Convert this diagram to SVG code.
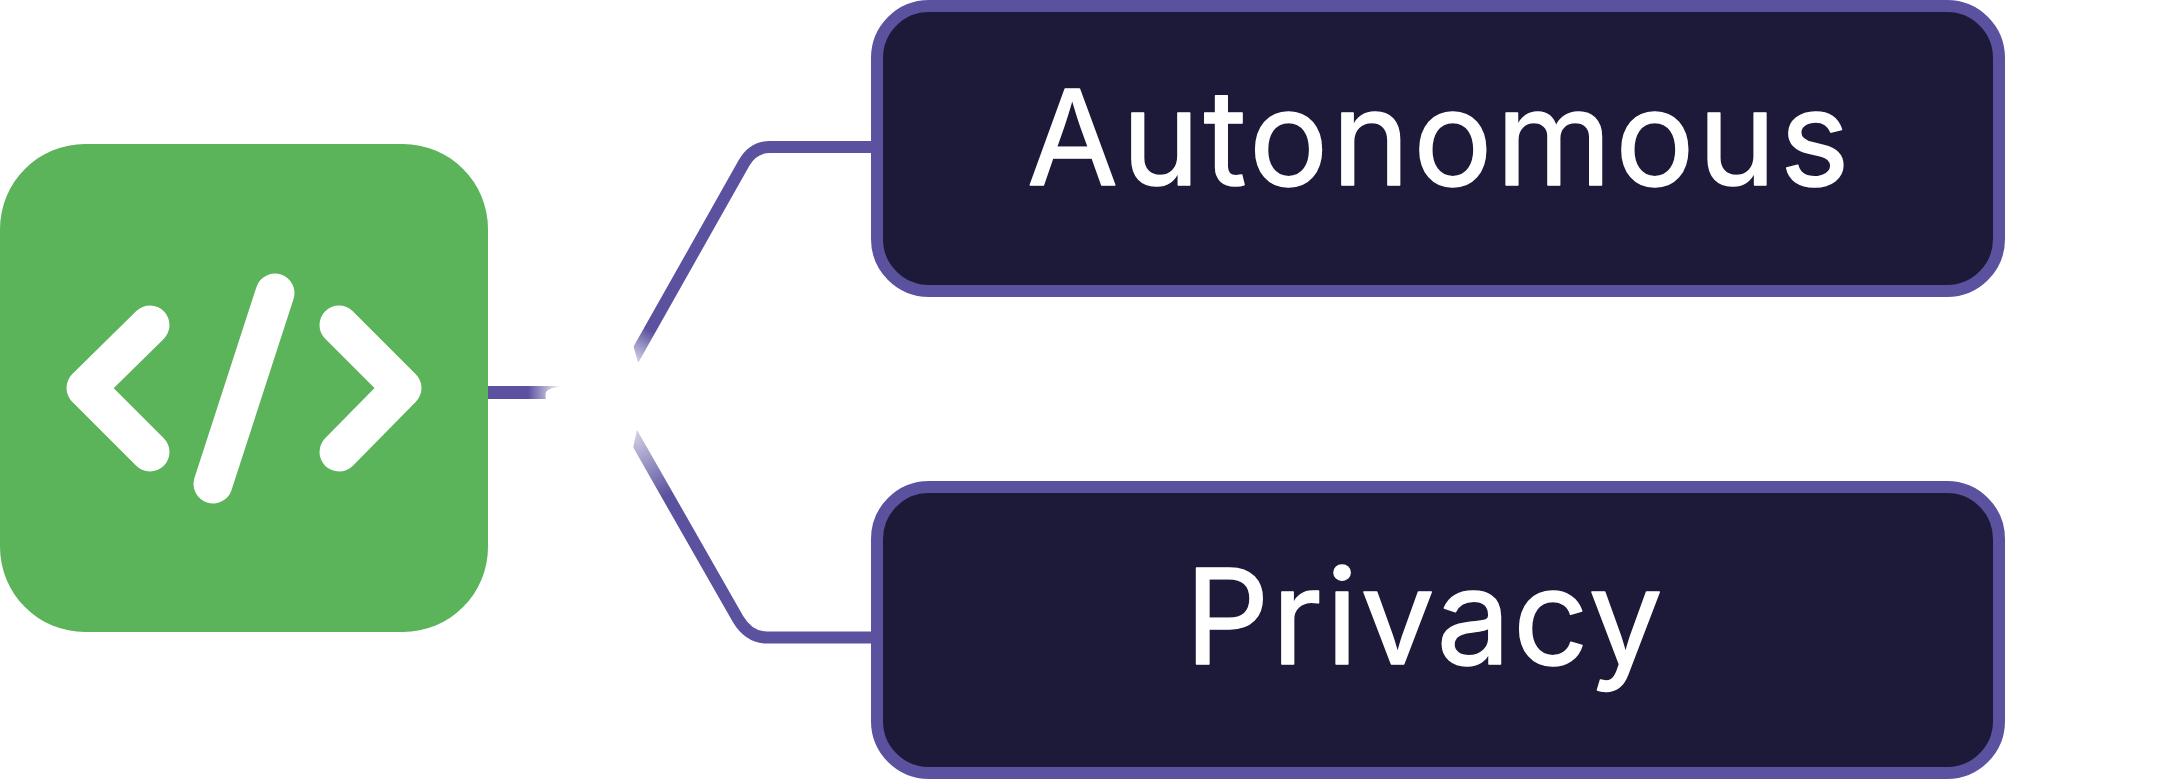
<svg xmlns="http://www.w3.org/2000/svg" width="2175" height="780" viewBox="0 0 2175 780">
<style>
.box{fill:#1d1a39;stroke:#5a529f;stroke-width:12}
.lbl{font-family:"Inter","Liberation Sans",sans-serif;font-size:132px;fill:#fff;stroke:#fff;stroke-width:1.5;stroke-linejoin:round;text-anchor:middle}
.glyph{fill:none;stroke:#fff;stroke-width:39;stroke-linecap:round;stroke-linejoin:round}
.conn{fill:none;stroke-width:12}
</style>
<defs>
<linearGradient id="gs" gradientUnits="userSpaceOnUse" x1="528" y1="0" x2="562" y2="0"><stop offset="0" stop-color="#5a529f"/><stop offset="1" stop-color="#5a529f" stop-opacity="0"/></linearGradient>
<linearGradient id="gt" gradientUnits="userSpaceOnUse" x1="652" y1="332" x2="634" y2="358"><stop offset="0" stop-color="#5a529f"/><stop offset="1" stop-color="#5a529f" stop-opacity=".3"/></linearGradient>
<linearGradient id="gb" gradientUnits="userSpaceOnUse" x1="668" y1="495" x2="633" y2="436"><stop offset="0" stop-color="#5a529f"/><stop offset="1" stop-color="#5a529f" stop-opacity=".3"/></linearGradient>
<clipPath id="ct"><path d="M633 345L638 362H900V0H633Z"/></clipPath>
<clipPath id="cb"><path d="M633 448L637 430H900V780H633Z"/></clipPath>
</defs>
<g id="connectors">
<path d="M488 386H562Q548 388 546 392Q545 396 546 399H488Z" fill="url(#gs)"/>
<path class="conn" stroke="url(#gt)" clip-path="url(#ct)" d="M871 147H770Q753 147 744 163L625 374"/>
<path class="conn" stroke="url(#gb)" clip-path="url(#cb)" d="M871 637.5H767Q749 637.5 738 619L625 421"/>
</g>
<g id="node-code">
<rect x="0" y="144" width="488" height="488" rx="85" fill="#5bb35a"/>
<path class="glyph" d="M150 325L86 388L150 452"/>
<path class="glyph" d="M339 325L402 388L339 452"/>
<path class="glyph" d="M275 293L213 484"/>
</g>
<g id="node-autonomous">
<rect class="box" x="877" y="6" width="1122" height="285" rx="52"/>
<text class="lbl" x="1440" y="185" letter-spacing="3.6">Autonomous</text>
</g>
<g id="node-privacy">
<rect class="box" x="877" y="487" width="1122" height="286" rx="52"/>
<text class="lbl" x="1425" y="664" letter-spacing="2.5">Privacy</text>
</g>
</svg>
